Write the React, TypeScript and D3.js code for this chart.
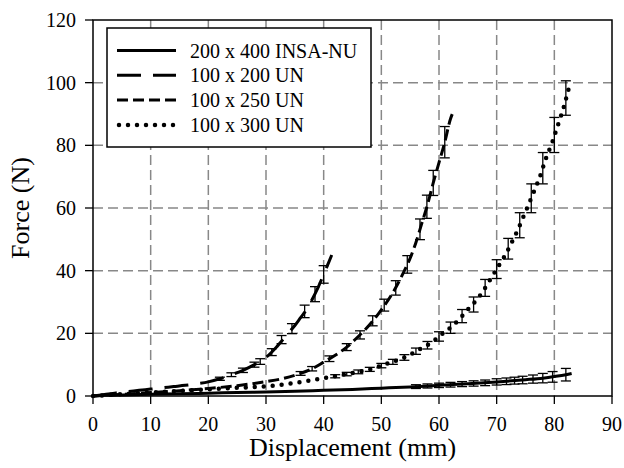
import React from "react";
import * as d3 from "d3";

const W = 624;
const H = 468;

const xTicks = [0, 10, 20, 30, 40, 50, 60, 70, 80, 90];
const yTicks = [0, 20, 40, 60, 80, 100, 120];

const seriesNames = ["200 x 400 INSA-NU", "100 x 200 UN", "100 x 250 UN", "100 x 300 UN"];

// Series 1: 200 x 400 INSA-NU (solid)
const x1 = [0, 2, 5, 10, 15, 20, 25, 30, 35, 40, 45, 50, 55, 60, 65, 70, 75, 78, 80, 82, 83];
const y1 = [0, 0.2, 0.35, 0.55, 0.7, 0.9, 1.1, 1.3, 1.5, 1.8, 2.1, 2.5, 2.9, 3.4, 3.9, 4.5, 5.2, 5.7, 6.2, 6.8, 7.2];
const ex1 = [56, 58, 60, 62, 64, 66, 68, 70, 71.7, 73.1, 74.5, 76.3, 78, 79.7, 82];
const ey1 = [3.0, 3.2, 3.4, 3.6, 3.8, 4.0, 4.2, 4.5, 4.7, 4.9, 5.1, 5.4, 5.7, 6.1, 6.8];
const ee1 = [0.6, 0.65, 0.7, 0.75, 0.8, 0.85, 0.9, 1.0, 1.05, 1.1, 1.2, 1.3, 1.5, 1.7, 2.0];

// Series 2: 100 x 200 UN (long dash)
const x2 = [0, 2, 4, 6, 8, 10, 12, 14, 16, 18, 20, 22, 24, 26, 28, 30, 32, 34, 35, 36, 37, 38, 39, 40, 41, 41.4];
const y2 = [0, 0.5, 1.0, 1.4, 1.8, 2.2, 2.6, 3.0, 3.4, 3.9, 4.5, 5.5, 6.8, 8.2, 10, 12.3, 16, 20.3, 22.5, 25, 27.5, 30.8, 34.5, 38.8, 43.2, 45];
const ex2 = [22, 24, 26, 28, 29, 31, 32.7, 34.5, 36.7, 38.5, 40];
const ey2 = [5.5, 6.8, 8.2, 10, 11, 14, 18, 21.5, 27, 32.5, 38.8];
const ee2 = [0.5, 0.6, 0.7, 0.8, 0.9, 1.1, 1.3, 1.6, 2.0, 2.4, 2.8];

// Series 3: 100 x 250 UN (short dash)
const x3 = [0, 5, 10, 15, 20, 25, 30, 33, 36, 38, 40, 42, 44, 46, 48, 50, 52, 54, 55, 56, 57, 58, 59, 60, 61, 62, 62.3];
const y3 = [0, 0.5, 1.1, 1.7, 2.4, 3.3, 4.6, 5.6, 7.2, 8.7, 10.8, 13, 15.6, 19, 22.8, 27.5, 33, 40, 44, 49, 55, 61, 68, 74.5, 81, 88.5, 90];
const ex3 = [36, 38, 41, 44, 46.3, 48.5, 50.5, 52.5, 54.5, 56.7, 57.9, 59, 61];
const ey3 = [7.2, 8.7, 11.9, 15.6, 19.5, 24, 29, 34.5, 42, 53.2, 60.4, 68, 81];
const ee3 = [0.6, 0.7, 0.9, 1.1, 1.3, 1.6, 1.9, 2.3, 2.8, 3.3, 3.7, 4, 5];

// Series 4: 100 x 300 UN (dotted)
const x4 = [0, 5, 10, 15, 20, 25, 29.5, 35, 40, 44, 47.1, 48.6, 50, 51.8, 53.2, 54.7, 56.2, 57.8, 59.3, 60.7, 62.3, 63.9, 65.2, 66.4, 67.5, 68.5, 69.5, 70.5, 71.4, 72.2, 73.7, 75, 76.3, 77.5, 78.5, 79.7, 80.7, 81.7, 82.5];
const y4 = [0, 0.6, 1.1, 1.6, 2.1, 2.6, 3.0, 4.2, 5.7, 7.0, 8.1, 8.8, 9.7, 10.8, 11.7, 12.9, 14.5, 16, 17.9, 20, 22.3, 25.3, 28, 30.4, 33, 36, 39, 42, 44.7, 47.5, 53.2, 58.8, 64.5, 70, 75.6, 81.3, 86.9, 92.6, 98.2];
const ex4 = [42, 44, 46, 48, 50, 52, 54, 56, 58, 60, 62, 64, 66, 68, 70, 72, 74, 76, 78, 80, 82];
const ey4 = [6.3, 7.0, 7.7, 8.5, 9.7, 10.9, 12.3, 14.3, 16.2, 19, 21.8, 25.5, 29.2, 34.5, 40.5, 47, 54.5, 63.1, 72.7, 83.3, 95.1];
const ee4 = [0.5, 0.55, 0.6, 0.65, 0.7, 0.8, 0.9, 1.0, 1.2, 1.5, 1.8, 2.1, 2.4, 2.7, 3.0, 3.3, 4, 4.6, 5, 5.6, 5.5];

const FONT = "'Liberation Serif', Tinos, 'Times New Roman', Times, 'Nimbus Roman', serif";

export default function App() {
  const left = 93, right = 612, top = 20, bottom = 396;
  const x = d3.scaleLinear().domain([0, 90]).range([left, right]);
  const y = d3.scaleLinear().domain([0, 120]).range([bottom, top]);

  const line = d3
    .line<[number, number]>()
    .x((d) => x(d[0]))
    .y((d) => y(d[1]))
    .curve(d3.curveMonotoneX);

  const zip = (a: number[], b: number[]) => a.map((v, i) => [v, b[i]] as [number, number]);

  const series = [
    { xs: x1, ys: y1, ex: ex1, ey: ey1, ee: ee1, dash: undefined as string | undefined, width: 3, cap: "butt" },
    { xs: x2, ys: y2, ex: ex2, ey: ey2, ee: ee2, dash: "24 12", width: 3, cap: "butt" },
    { xs: x3, ys: y3, ex: ex3, ey: ey3, ee: ee3, dash: "11 5", width: 3, cap: "butt" },
    { xs: x4, ys: y4, ex: ex4, ey: ey4, ee: ee4, dash: "0 9", width: 4.5, cap: "round" },
  ];

  const capW = 5;
  const ts = { fontFamily: FONT };

  return (
    <svg width={W} height={H} style={{ position: "absolute", left: 0, top: 0, background: "#fff", fontFamily: FONT }}>
      <rect x={0} y={0} width={W} height={H} fill="#fff" />
      {/* grid */}
      {xTicks.slice(1, -1).map((t) => (
        <line key={"gx" + t} x1={x(t)} x2={x(t)} y1={top} y2={bottom} stroke="#888" strokeWidth={1.5} strokeDasharray="10 5" />
      ))}
      {yTicks.slice(1, -1).map((t) => (
        <line key={"gy" + t} x1={left} x2={right} y1={y(t)} y2={y(t)} stroke="#888" strokeWidth={1.5} strokeDasharray="10 5" />
      ))}

      {/* error bars */}
      {series.map((s, si) =>
        s.ex.map((ex, i) => {
          const cx = x(ex);
          const lo = y(s.ey[i] - s.ee[i]);
          const hi = y(s.ey[i] + s.ee[i]);
          return (
            <g key={`e${si}-${i}`} stroke="#000" strokeWidth={1.3}>
              <line x1={cx} x2={cx} y1={lo} y2={hi} />
              <line x1={cx - capW} x2={cx + capW} y1={lo} y2={lo} />
              <line x1={cx - capW} x2={cx + capW} y1={hi} y2={hi} />
            </g>
          );
        })
      )}

      {/* lines */}
      {series.map((s, si) => (
        <path
          key={"l" + si}
          d={line(zip(s.xs, s.ys)) || ""}
          fill="none"
          stroke="#000"
          strokeWidth={s.width}
          strokeDasharray={s.dash}
          strokeLinecap={s.cap as any}
        />
      ))}

      {/* frame */}
      <rect x={left} y={top} width={right - left} height={bottom - top} fill="none" stroke="#000" strokeWidth={1.5} />
      {/* ticks */}
      {xTicks.map((t) => (
        <g key={"xt" + t}>
          <line x1={x(t)} x2={x(t)} y1={bottom} y2={bottom + 8} stroke="#000" strokeWidth={1.3} />
          <text x={x(t)} y={431} textAnchor="middle" fontSize={20} style={ts}>
            {t}
          </text>
        </g>
      ))}
      {yTicks.map((t) => (
        <g key={"yt" + t}>
          <line x1={left - 8} x2={left} y1={y(t)} y2={y(t)} stroke="#000" strokeWidth={1.3} />
          <text x={76} y={y(t)} dy="0.35em" textAnchor="end" fontSize={20} style={ts}>
            {t}
          </text>
        </g>
      ))}

      {/* axis titles */}
      <text x={(left + right) / 2} y={456} textAnchor="middle" fontSize={26} style={ts}>
        Displacement (mm)
      </text>
      <text transform={`translate(29, ${(top + bottom) / 2}) rotate(-90)`} textAnchor="middle" fontSize={26} style={ts}>
        Force (N)
      </text>

      {/* legend */}
      <rect x={107} y={28} width={264} height={119} fill="#fff" stroke="#000" strokeWidth={1.5} />
      {seriesNames.map((name, i) => {
        const cy = 50.5 + i * 24.8;
        const s = series[i];
        return (
          <g key={"lg" + i}>
            <line
              x1={s.cap === "round" ? 119 : 117}
              x2={176}
              y1={cy}
              y2={cy}
              stroke="#000"
              strokeWidth={s.width}
              strokeDasharray={s.dash}
              strokeLinecap={s.cap as any}
            />
            <text x={190} y={cy} dy="0.35em" fontSize={20} style={ts}>
              {name}
            </text>
          </g>
        );
      })}
    </svg>
  );
}
